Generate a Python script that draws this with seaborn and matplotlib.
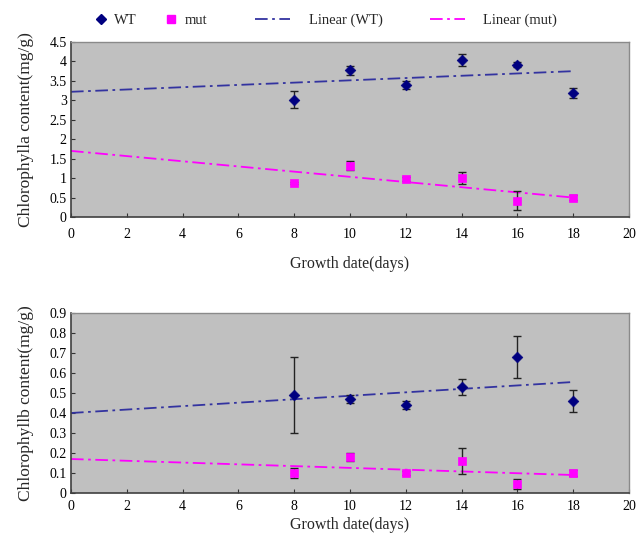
import numpy as np
import pandas as pd
import seaborn as sns
import matplotlib.pyplot as plt
from matplotlib.lines import Line2D

days = [8, 10, 12, 14, 16, 18]

# chlorophyll a (mg/g)
wt_a = [3.02, 3.77, 3.40, 4.03, 3.92, 3.18]
wt_a_err = [0.22, 0.12, 0.10, 0.15, 0.06, 0.13]
mut_a = [0.87, 1.32, 0.98, 1.00, 0.42, 0.50]
mut_a_err = [0.03, 0.12, 0.06, 0.15, 0.25, 0.07]

# chlorophyll b (mg/g)
wt_b = [0.49, 0.47, 0.44, 0.53, 0.68, 0.46]
wt_b_err = [0.19, 0.02, 0.02, 0.04, 0.105, 0.055]
mut_b = [0.10, 0.18, 0.10, 0.16, 0.045, 0.10]
mut_b_err = [0.025, 0.02, 0.01, 0.065, 0.025, 0.015]

# linear trend lines (value at day 0 and day 18)
trend_x = [0, 18]
wt_a_trend = [3.22, 3.75]
mut_a_trend = [1.70, 0.50]
wt_b_trend = [0.40, 0.555]
mut_b_trend = [0.17, 0.09]

WT_COL = "#000080"
WT_LINE = "#3333a0"
MUT_COL = "#ff00ff"
BG = "#c0c0c0"
DASHDOT = (0, (7, 2.5, 1.5, 2.5))

sns.set_theme(style="ticks")
plt.rcParams["font.family"] = ["Liberation Serif", "DejaVu Serif"]

fig = plt.figure(figsize=(6.44, 5.42), dpi=100)
ax1 = fig.add_axes([0.1102, 0.5996, 0.8665, 0.3229])
ax2 = fig.add_axes([0.1102, 0.0904, 0.8665, 0.3321])


def draw_panel(ax, wt, wt_err, mut, mut_err, wt_tr, mut_tr, ylim, yticks,
               ylabel, tickpad, xpad):
    ax.set_facecolor(BG)
    sns.lineplot(x=trend_x, y=wt_tr, ax=ax, color=WT_LINE, lw=1.3,
                 linestyle=DASHDOT, zorder=2)
    sns.lineplot(x=trend_x, y=mut_tr, ax=ax, color=MUT_COL, lw=1.3,
                 linestyle=DASHDOT, zorder=2)
    ax.errorbar(days, wt, yerr=wt_err, fmt="none", ecolor="#222222",
                elinewidth=1, capsize=3, capthick=1, zorder=3)
    ax.errorbar(days, mut, yerr=mut_err, fmt="none", ecolor="#222222",
                elinewidth=1, capsize=3, capthick=1, zorder=3)
    sns.scatterplot(x=days, y=wt, ax=ax, marker="D", s=30, color=WT_COL,
                    edgecolor=WT_COL, zorder=4)
    sns.scatterplot(x=days, y=mut, ax=ax, marker="s", s=38, color=MUT_COL,
                    edgecolor=MUT_COL, zorder=4)
    ax.set_xlim(0, 20)
    ax.set_ylim(*ylim)
    ax.set_xticks(range(0, 21, 2))
    ax.set_yticks(yticks)
    ax.set_yticklabels([("%g" % t) for t in yticks])
    ax.tick_params(axis="both", labelsize=10, length=3, width=0.8,
                   direction="in", colors="#333333", labelcolor="black")
    ax.tick_params(axis="x", pad=tickpad)
    ax.tick_params(axis="y", pad=3)
    for s in ["left", "bottom"]:
        ax.spines[s].set_color("#404040")
        ax.spines[s].set_linewidth(1.2)
    for s in ["top", "right"]:
        ax.spines[s].set_visible(True)
        ax.spines[s].set_color("#8a8a8a")
        ax.spines[s].set_linewidth(1)
    ax.set_xlabel("Growth date(days)", fontsize=11.5, labelpad=xpad)
    ax.set_ylabel(ylabel, fontsize=12.5, labelpad=11)


draw_panel(ax1, wt_a, wt_a_err, mut_a, mut_a_err, wt_a_trend, mut_a_trend,
           (0, 4.5), [0, 0.5, 1, 1.5, 2, 2.5, 3, 3.5, 4, 4.5],
           "Chlorophylla content(mg/g)", 8, 11)
draw_panel(ax2, wt_b, wt_b_err, mut_b, mut_b_err, wt_b_trend, mut_b_trend,
           (0, 0.9), [0, 0.1, 0.2, 0.3, 0.4, 0.5, 0.6, 0.7, 0.8, 0.9],
           "Chlorophyllb content(mg/g)", 5, 3)

# legend: markers and trend lines are spaced differently in the original
mk_handles = [
    Line2D([], [], marker="D", ms=5, color=WT_COL, lw=0),
    Line2D([], [], marker="s", ms=6, color=MUT_COL, lw=0),
]
ln_handles = [
    Line2D([], [], color=WT_LINE, lw=1.3, linestyle=DASHDOT),
    Line2D([], [], color=MUT_COL, lw=1.3, linestyle=DASHDOT),
]
fig.legend(mk_handles, ["WT", "mut"], loc="center left",
           bbox_to_anchor=(0.147, 0.963), ncol=2, frameon=False,
           fontsize=10.5, columnspacing=2.0, handlelength=0.8,
           handletextpad=0.5, borderpad=0, borderaxespad=0)
fig.legend(ln_handles, ["Linear (WT)", "Linear (mut)"], loc="center left",
           bbox_to_anchor=(0.396, 0.963), ncol=2, frameon=False,
           fontsize=10.5, columnspacing=3.2, handlelength=2.4,
           handletextpad=1.3, borderpad=0, borderaxespad=0)

fig.savefig("out.png", dpi=100, facecolor="white")
